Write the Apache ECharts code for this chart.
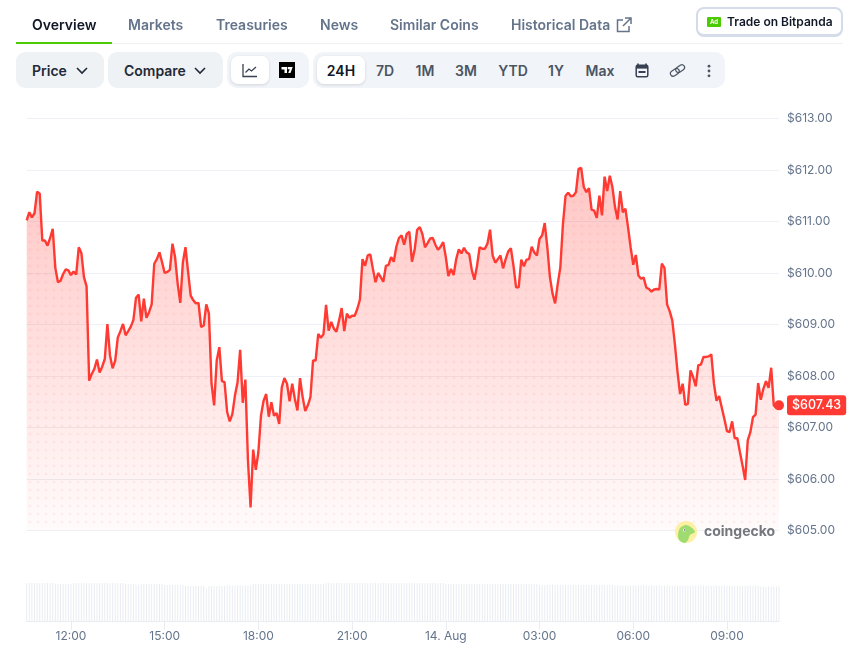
<!DOCTYPE html>
<html>
<head>
<meta charset="utf-8">
<title>Price chart</title>
<script src="https://cdn.jsdelivr.net/npm/echarts@6/dist/echarts.min.js"></script>
<style>
html, body { margin: 0; padding: 0; background: #fff; overflow: hidden; }
body { width: 851px; height: 650px; position: relative; font-family: Inter, sans-serif; }
#main { position: absolute; left: 0; top: 0; width: 851px; height: 650px; }
.t { position: absolute; white-space: nowrap; font-size: 14px; font-weight: 600; line-height: 20px; color: #64748b; }
.c { transform: translateX(-50%); color: #4b5563; }
.box { position: absolute; box-sizing: border-box; }
svg { position: absolute; }
</style>
</head>
<body>
<div id="main"></div>

<div class="box" style="left:16px;top:43px;width:827px;height:1px;background:#eff2f5"></div>
<div class="box" style="left:16px;top:42px;width:96px;height:2px;background:#4bcc00"></div>
<div class="t" style="left:32px;top:15px;color:#111827">Overview</div>
<div class="t" style="left:128px;top:15px">Markets</div>
<div class="t" style="left:216px;top:15px">Treasuries</div>
<div class="t" style="left:320px;top:15px">News</div>
<div class="t" style="left:390px;top:15px">Similar Coins</div>
<div class="t" style="left:511px;top:15px">Historical Data</div>
<svg style="left:616px;top:17px" width="16" height="16" viewBox="0 0 16 16" fill="none" stroke="#64748b" stroke-width="1.5"><path d="M7 3H1.5v11.5H13V9M9 1h6v6M15 1L7 9"/></svg>

<div class="box" style="left:696px;top:7px;width:147px;height:30px;border:2px solid #d3dce8;border-bottom-width:3px;border-radius:8px;background:#fff"></div>
<div class="box" style="left:707px;top:17px;width:14px;height:10px;border-radius:1px;background:#4bcc00;color:#fff;font-size:6px;font-weight:700;line-height:10px;text-align:center">Ad</div>
<div class="t" style="left:727px;top:12px;font-size:12px;color:#111827">Trade on Bitpanda</div>

<div class="box" style="left:16px;top:52px;width:88px;height:36px;border-radius:9px;background:#eff2f5"></div>
<div class="t" style="left:32px;top:61px;color:#1f2937">Price</div>
<svg style="left:76px;top:67px" width="12" height="8" viewBox="0 0 12 8" fill="none" stroke="#1f2937" stroke-width="1.6"><path d="M1 1l5 5 5-5"/></svg>
<div class="box" style="left:108px;top:52px;width:115px;height:36px;border-radius:9px;background:#eff2f5"></div>
<div class="t" style="left:124px;top:61px;color:#1f2937">Compare</div>
<svg style="left:194px;top:67px" width="12" height="8" viewBox="0 0 12 8" fill="none" stroke="#1f2937" stroke-width="1.6"><path d="M1 1l5 5 5-5"/></svg>

<div class="box" style="left:227px;top:52px;width:82px;height:36px;border-radius:10px;background:#f1f4f8"></div>
<div class="box" style="left:231px;top:56px;width:38px;height:28px;border-radius:7px;background:#fff;box-shadow:0 1px 3px rgba(30,41,59,.15)"></div>
<svg style="left:242px;top:63px" width="16" height="15" viewBox="0 0 16 15" fill="none" stroke="#374151" stroke-width="1.3"><path d="M1 1v12.5h14M3.5 9.5l3.5-3.5 2.5 2 4.5-4"/></svg>
<svg style="left:279px;top:62px" width="16" height="16" viewBox="0 0 16 16"><rect width="16" height="16" fill="#000"/><path d="M2.5 5h5.5v6H5.5V7.5h-3zM8.7 5h5l-2.2 6H9.2l1.5-3.7H8.7z" fill="#fff"/></svg>

<div class="box" style="left:313px;top:52px;width:412px;height:36px;border-radius:10px;background:#f1f4f8"></div>
<div class="box" style="left:317px;top:56px;width:48px;height:28px;border-radius:7px;background:#fff;box-shadow:0 1px 3px rgba(30,41,59,.15)"></div>
<div class="t c" style="left:341px;top:61px;color:#111827">24H</div>
<div class="t c" style="left:385px;top:61px">7D</div>
<div class="t c" style="left:425px;top:61px">1M</div>
<div class="t c" style="left:466px;top:61px">3M</div>
<div class="t c" style="left:513px;top:61px">YTD</div>
<div class="t c" style="left:556px;top:61px">1Y</div>
<div class="t c" style="left:600px;top:61px">Max</div>
<svg style="left:635px;top:63px" width="14" height="15" viewBox="0 0 14 15"><path d="M3 0.5v2M11 0.5v2" stroke="#374151" stroke-width="1.6"/><rect x="1.2" y="2.2" width="11.6" height="11.6" rx="1.5" fill="none" stroke="#374151" stroke-width="1.5"/><rect x="1.2" y="2.2" width="11.6" height="3.4" fill="#374151"/><rect x="3.5" y="8" width="7" height="2" fill="#374151"/></svg>
<svg style="left:669px;top:63px" width="17" height="15" viewBox="0 0 17 15" fill="none" stroke="#4b5563" stroke-width="1.2"><g transform="rotate(-35 8.5 7.5)"><rect x="0.5" y="4.8" width="9.5" height="5.4" rx="2.7"/><rect x="7" y="4.8" width="9.5" height="5.4" rx="2.7"/></g></svg>
<svg style="left:707px;top:64px" width="4" height="14" viewBox="0 0 4 14" fill="#4b5563"><circle cx="2" cy="2.2" r="1.4"/><circle cx="2" cy="7" r="1.4"/><circle cx="2" cy="11.8" r="1.4"/></svg>

<script>
// price every 5 minutes
var prices = [
    611.02, 611.18, 611.08, 611.16, 611.58, 611.54, 610.63, 610.63, 610.53, 610.68,
    610.86, 610.10, 609.82, 609.85, 609.98, 610.07, 610.05, 609.96, 610.03, 609.97,
    610.50, 610.39, 609.92, 609.74, 607.91, 608.04, 608.14, 608.32, 608.07, 608.18,
    608.33, 609.01, 608.40, 608.15, 608.30, 608.75, 608.87, 609.01, 608.79, 608.87,
    608.96, 609.09, 609.52, 609.58, 609.06, 609.50, 609.13, 609.24, 609.39, 610.18,
    610.27, 610.40, 610.21, 610.00, 610.02, 610.06, 610.57, 610.31, 609.79, 609.42,
    610.21, 610.50, 610.02, 609.56, 609.47, 609.41, 609.42, 608.95, 608.98, 609.39,
    609.21, 607.85, 607.43, 608.30, 608.56, 607.90, 607.88, 607.30, 607.12, 607.26,
    607.62, 607.88, 608.51, 607.48, 607.93, 606.36, 605.45, 606.57, 606.18, 606.52,
    607.23, 607.52, 607.65, 607.21, 607.49, 607.23, 607.28, 607.07, 607.78, 607.96,
    607.85, 607.51, 607.85, 607.56, 607.33, 607.96, 607.59, 607.32, 607.43, 607.59,
    608.30, 608.30, 608.82, 608.74, 608.81, 609.38, 608.88, 609.05, 608.92, 608.86,
    609.08, 609.32, 608.87, 609.21, 609.13, 609.17, 609.17, 609.30, 609.48, 610.27,
    610.14, 610.34, 610.36, 610.08, 609.82, 610.00, 609.92, 609.83, 610.14, 610.16,
    610.31, 610.22, 610.51, 610.68, 610.73, 610.55, 610.76, 610.80, 610.22, 610.44,
    610.84, 610.89, 610.76, 610.50, 610.58, 610.67, 610.68, 610.55, 610.45, 610.51,
    610.60, 610.31, 609.94, 610.08, 609.96, 610.27, 610.46, 610.38, 610.49, 610.40,
    610.37, 610.05, 609.87, 610.14, 610.50, 610.47, 610.47, 610.57, 610.84, 610.34,
    610.20, 610.27, 610.34, 610.09, 610.27, 610.42, 610.48, 610.14, 609.72, 609.72,
    610.26, 610.13, 610.26, 610.27, 610.51, 610.40, 610.34, 610.66, 610.73, 610.97,
    610.50, 609.92, 609.60, 609.41, 609.79, 610.11, 610.95, 611.50, 611.56, 611.49,
    611.50, 611.57, 612.02, 612.04, 611.67, 611.57, 611.65, 611.23, 611.21, 611.07,
    611.50, 611.12, 611.87, 611.59, 611.89, 611.67, 611.28, 611.04, 611.59, 611.18,
    611.25, 610.89, 610.50, 610.16, 610.35, 609.95, 609.89, 609.91, 609.72, 609.69,
    609.64, 609.68, 609.69, 609.68, 610.18, 610.10, 609.39, 609.26, 609.08, 608.62,
    608.09, 607.65, 607.85, 607.44, 607.46, 608.11, 607.98, 607.80, 608.21, 608.22,
    608.37, 608.37, 608.38, 608.42, 607.85, 607.52, 607.61, 607.39, 607.17, 606.93,
    606.91, 607.12, 606.79, 606.79, 606.52, 606.26, 605.98, 606.75, 606.91, 607.20,
    607.25, 607.86, 607.54, 607.75, 607.90, 607.77, 608.16, 607.43, 607.38, 607.43
];

// volume per 5 minutes, relative height
var volumes = [
    38.7, 38.7, 38.7, 38.7, 38.7, 38.7, 38.7, 38.7, 38.7, 38.7,
    38.7, 37.7, 37.7, 37.7, 37.7, 37.7, 37.7, 37.7, 38.7, 38.7,
    38.7, 38.7, 38.7, 38.7, 38.7, 38.7, 38.7, 38.7, 38.7, 38.7,
    38.7, 38.7, 38.7, 38.7, 38.7, 38.7, 38.7, 38.7, 37.7, 37.7,
    37.7, 37.7, 37.2, 37.2, 37.7, 37.7, 37.7, 37.7, 37.7, 37.7,
    37.7, 37.7, 37.7, 36.7, 36.7, 36.7, 36.7, 36.7, 36.7, 36.7,
    36.7, 35.7, 35.7, 35.7, 35.7, 35.7, 35.7, 35.7, 35.7, 33.3,
    35.7, 35.7, 35.7, 35.7, 35.7, 35.7, 35.7, 36.3, 36.3, 36.3,
    36.3, 36.3, 36.3, 36.3, 36.3, 36.3, 36.3, 37.7, 37.7, 37.7,
    37.7, 37.7, 37.7, 37.7, 37.7, 37.7, 37.7, 37.7, 37.7, 37.7,
    37.7, 37.7, 37.7, 37.7, 37.7, 37.7, 37.7, 37.7, 37.7, 37.7,
    37.7, 37.7, 37.7, 37.7, 37.7, 38.7, 38.7, 38.7, 38.7, 38.7,
    38.7, 38.7, 38.7, 38.7, 38.7, 38.7, 38.7, 38.7, 38.7, 38.7,
    38.7, 38.7, 38.7, 38.7, 38.7, 38.7, 38.7, 38.7, 38.7, 38.7,
    38.7, 38.7, 38.7, 38.7, 38.7, 38.7, 38.7, 38.7, 38.7, 38.7,
    38.7, 38.7, 38.7, 38.7, 38.7, 38.7, 38.7, 38.7, 38.7, 38.7,
    38.7, 37.7, 37.7, 37.7, 37.7, 37.7, 37.7, 37.7, 37.7, 37.7,
    37.7, 37.7, 37.7, 37.7, 37.7, 37.7, 37.7, 37.7, 37.7, 37.7,
    37.7, 37.7, 37.7, 37.7, 37.7, 37.7, 37.7, 37.7, 37.7, 37.7,
    37.7, 37.7, 37.7, 37.7, 37.7, 37.7, 37.7, 36.7, 36.7, 36.7,
    36.7, 36.7, 37.2, 36.7, 36.7, 36.7, 36.7, 36.7, 36.7, 36.7,
    37.2, 36.7, 36.7, 36.7, 36.7, 36.7, 36.7, 36.7, 36.7, 36.7,
    36.7, 36.7, 36.7, 36.7, 36.7, 36.7, 36.3, 36.3, 36.3, 36.3,
    36.3, 36.3, 36.3, 36.3, 36.3, 36.3, 36.3, 36.3, 36.3, 36.3,
    36.3, 36.3, 36.3, 36.3, 36.0, 36.0, 36.0, 36.0, 36.0, 36.0,
    36.0, 36.0, 36.0, 36.0, 36.0, 36.0, 36.0, 36.0, 36.0, 36.0,
    36.0, 36.0, 36.0, 36.0, 36.0, 36.0, 36.0, 36.0, 36.0, 36.0,
    36.0, 36.0, 36.0, 36.0, 36.0, 36.0, 36.0, 36.0, 36.0, 36.0,
    36.0, 36.0, 35.3, 35.3, 35.3, 35.3, 35.3, 35.3, 35.3, 35.3
];

var tickLabels = ['12:00', '15:00', '18:00', '21:00', '14. Aug', '03:00', '06:00', '09:00'];
// minutes after the first sample (10:35)
var tickMinutes = [85, 265, 445, 625, 805, 985, 1165, 1345];

var stepMinutes = 5;
var priceData = prices.map(function (p, i) { return [i * stepMinutes, p]; });
var volumeData = volumes.map(function (v, i) { return [i * stepMinutes, v]; });
var lastPoint = priceData[priceData.length - 1];

// area fill: gradient plus the dotted texture, drawn once and pinned to the page
var fill = document.createElement('canvas');
fill.width = 851;
fill.height = 650;
var ctx = fill.getContext('2d');
var grad = ctx.createLinearGradient(0, 168, 0, 530);
grad.addColorStop(0, 'rgba(255,58,51,0.29)');
grad.addColorStop(1, 'rgba(255,58,51,0.02)');
ctx.fillStyle = grad;
ctx.fillRect(0, 0, 851, 650);
ctx.fillStyle = 'rgba(255,58,51,0.06)';
for (var dy = 2; dy < 530; dy += 8) {
    for (var dx = 30; dx < 780; dx += 8) {
        ctx.beginPath();
        ctx.arc(dx, dy, 1.6, 0, Math.PI * 2);
        ctx.fill();
    }
}

var myChart = echarts.init(document.getElementById('main'), null, { renderer: 'canvas' });

var option = {
    animation: false,
    textStyle: { fontFamily: 'Inter' },
    grid: [
        { left: 26.7, right: 72, top: 118.5, height: 412 },
        { left: 26.7, right: 72, top: 583, height: 38.7 }
    ],
    xAxis: [
        {
            type: 'value', gridIndex: 0, min: 0, max: lastPoint[0],
            axisLine: { show: false }, axisTick: { show: false },
            axisLabel: { show: false }, splitLine: { show: false }
        },
        {
            type: 'value', gridIndex: 1, min: 0, max: lastPoint[0],
            axisLine: { lineStyle: { color: '#e9edf2' } },
            axisTick: { length: 8, lineStyle: { color: '#e9edf2' }, customValues: tickMinutes },
            axisLabel: {
                customValues: tickMinutes,
                color: '#64748b', fontSize: 12, margin: 9,
                formatter: function (value) { return tickLabels[tickMinutes.indexOf(value)]; }
            },
            splitLine: { show: false }
        }
    ],
    yAxis: [
        {
            type: 'value', gridIndex: 0, position: 'right', min: 605, max: 613, interval: 1,
            axisLine: { show: false }, axisTick: { show: false },
            axisLabel: {
                color: '#64748b', fontSize: 12, margin: 8,
                formatter: function (v) { return '$' + v.toFixed(2); }
            },
            splitLine: { lineStyle: { color: '#eef1f5', width: 1 } }
        },
        {
            type: 'value', gridIndex: 1, min: 0, max: 38.7, show: false
        }
    ],
    series: [
        {
            name: 'Volume', type: 'bar', xAxisIndex: 1, yAxisIndex: 1,
            data: volumeData, barWidth: 0.9,
            itemStyle: { color: '#e9edf2' }
        },
        {
            name: 'Price', type: 'line', xAxisIndex: 0, yAxisIndex: 0,
            data: priceData, showSymbol: false, symbol: 'none', smooth: false,
            lineStyle: { color: '#ff3a33', width: 2.4 },
            areaStyle: { color: { image: fill, repeat: 'no-repeat' }, origin: 'start', opacity: 1 },
            z: 3
        },
        {
            name: 'Last', type: 'scatter', xAxisIndex: 0, yAxisIndex: 0,
            data: [lastPoint], symbolSize: 10, clip: false, z: 5,
            itemStyle: { color: '#ff3a33', opacity: 1 },
            label: {
                show: true, position: 'right', distance: 3,
                color: '#fff', fontSize: 12.5, fontWeight: 500,
                backgroundColor: '#ff3a33', borderRadius: 3, padding: [4, 5, 3, 5],
                formatter: function (p) { return '$' + p.value[1].toFixed(2); }
            }
        }
    ],
    graphic: [
        { type: 'circle', shape: { cx: 686, cy: 532, r: 11 }, style: { fill: '#fdf0a3' }, z: 10 },
        {
            type: 'polygon', z: 11,
            shape: { points: [[678, 536], [680, 528], [686, 525], [692, 528], [695, 532], [690, 535], [688, 540], [685, 543], [680, 541]], smooth: 0.3 },
            style: { fill: '#9edc72' }
        },
        { type: 'circle', shape: { cx: 684.5, cy: 530, r: 1.6 }, style: { fill: '#f4f6ee' }, z: 12 },
        { type: 'circle', shape: { cx: 684.8, cy: 530, r: 0.8 }, style: { fill: '#4b5563' }, z: 13 },
        {
            type: 'text', left: 704, top: 525, z: 10,
            style: { text: 'coingecko', fill: '#74777c', font: '700 14px Inter' }
        }
    ]
};

myChart.setOption(option);
</script>
</body>
</html>
